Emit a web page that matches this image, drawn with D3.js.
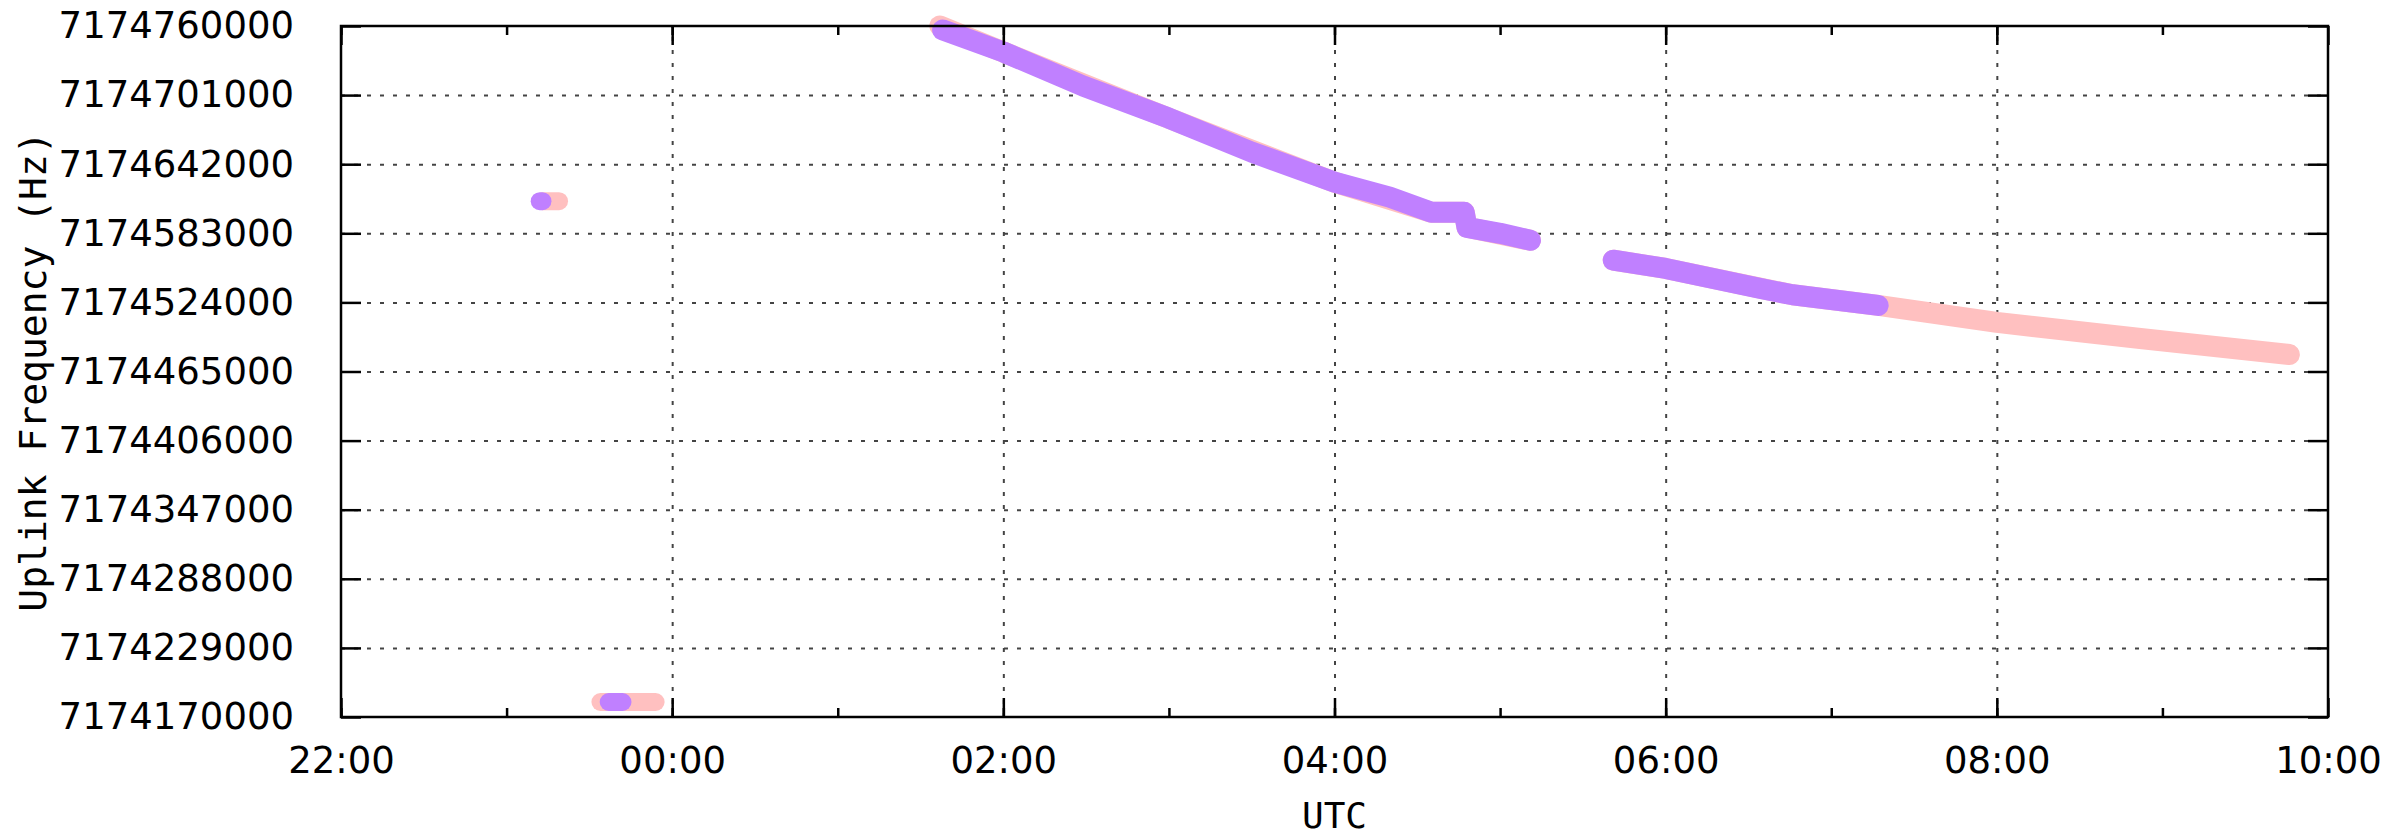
<!DOCTYPE html>
<html>
<head>
<meta charset="utf-8">
<script src="https://cdn.jsdelivr.net/npm/d3@7"></script>
<style>
  body { margin: 0; background: #fff; }
  .tick text { font-family: "DejaVu Sans", sans-serif; }
</style>
</head>
<body>
<div class="canvas"></div>
<script>
// tick labels
const xTickLabels = ['22:00', '00:00', '02:00', '04:00', '06:00', '08:00', '10:00'];
const yTicks = [7174170000, 7174229000, 7174288000, 7174347000, 7174406000,
  7174465000, 7174524000, 7174583000, 7174642000, 7174701000, 7174760000];

// purple series, [time UTC, uplink Hz]
const purpleA = [['23:12', 7174610400], ['23:13', 7174610400]];
const purpleB = [['23:37', 7174182800], ['23:42', 7174182800]];
const purpleTrack1 = [
  ['01:38', 7174756600], ['02:00', 7174737800], ['02:29', 7174708700],
  ['03:00', 7174681300], ['03:30', 7174652300], ['04:00', 7174626600],
  ['04:20', 7174613800], ['04:35', 7174601000], ['04:47', 7174601000],
  ['04:48', 7174588100], ['05:00', 7174583000], ['05:11', 7174577000]
];
const purpleTrack2 = [
  ['05:41', 7174560000], ['06:00', 7174553000], ['06:34', 7174536000],
  ['06:46', 7174530500], ['07:17', 7174521400]
];

// pink series
const pinkA = [['23:13', 7174610400], ['23:19', 7174610400]];
const pinkB = [['23:34', 7174182800], ['23:54', 7174182800]];
const pinkTrack1 = [
  ['01:37', 7174760000], ['02:00', 7174737800], ['03:00', 7174681300],
  ['04:00', 7174626600], ['04:35', 7174601000], ['04:47', 7174601000],
  ['04:48', 7174588100], ['05:11', 7174577000]
];
const pinkTrack2 = [
  ['05:41', 7174560000], ['06:00', 7174553000], ['06:46', 7174530500],
  ['07:17', 7174521400], ['08:00', 7174506900], ['08:52', 7174493200],
  ['09:46', 7174479500]
];

// "HH:MM" -> date, evening hours belong to the first day
const parseTime = s => {
  const [h, m] = s.split(':').map(Number);
  return new Date(Date.UTC(2000, 0, h >= 12 ? 1 : 2, h, m));
};

const svg = d3.select('.canvas')
  .append('svg')
    .attr('width', 2390)
    .attr('height', 836);

const margin = {top: 26, right: 62, bottom: 119, left: 341};
const graphWidth = 2390 - margin.left - margin.right;
const graphHeight = 836 - margin.top - margin.bottom;

const graph = svg.append('g')
  .attr('transform', `translate(${margin.left}, ${margin.top})`);

const x = d3.scaleUtc()
  .domain([parseTime(xTickLabels[0]), parseTime(xTickLabels[xTickLabels.length - 1])])
  .range([0, graphWidth]);

const y = d3.scaleLinear()
  .domain([yTicks[0], yTicks[yTicks.length - 1]])
  .range([graphHeight, 0]);

const majorTimes = xTickLabels.map(parseTime);
const minorTimes = d3.utcHour.every(1).range(majorTimes[0], majorTimes[majorTimes.length - 1]);

// grid
const gridStyle = g => g.call(s => s.select('.domain').remove())
  .selectAll('line')
    .attr('stroke', '#444')
    .attr('stroke-width', 2)
    .attr('stroke-dasharray', '4,9');

graph.append('g')
  .call(d3.axisLeft(y).tickValues(yTicks.slice(1, -1)).tickSize(-graphWidth).tickFormat(''))
  .call(gridStyle);

graph.append('g')
  .attr('transform', `translate(0, ${graphHeight})`)
  .call(d3.axisBottom(x).tickValues(majorTimes.slice(1, -1)).tickSize(-graphHeight).tickFormat(''))
  .call(gridStyle);

// data tracks
const line = d3.line()
  .x(d => x(parseTime(d[0])))
  .y(d => y(d[1]));

const drawTrack = (data, colour, w) => {
  graph.append('path')
    .datum(data)
    .attr('d', line)
    .attr('fill', 'none')
    .attr('stroke', colour)
    .attr('stroke-width', w)
    .attr('stroke-linecap', 'round')
    .attr('stroke-linejoin', 'round');
};

[pinkA, pinkB].forEach(d => drawTrack(d, '#ffc0c0', 18));
[pinkTrack1, pinkTrack2].forEach(d => drawTrack(d, '#ffc0c0', 21));
[purpleA, purpleB].forEach(d => drawTrack(d, '#c080ff', 18));
[purpleTrack1, purpleTrack2].forEach(d => drawTrack(d, '#c080ff', 21));

// axes, ticks pointing inward
const axisStyle = g => {
  g.selectAll('.domain').remove();
  g.selectAll('line').attr('stroke', '#000').attr('stroke-width', 2.5);
  g.selectAll('text').attr('fill', '#000').attr('font-size', 37);
};

graph.append('g')
  .call(d3.axisLeft(y).tickValues(yTicks).tickSize(-20).tickPadding(47).tickFormat(d3.format('d')))
  .call(axisStyle);

graph.append('g')
  .attr('transform', `translate(${graphWidth}, 0)`)
  .call(d3.axisRight(y).tickValues(yTicks).tickSize(-20).tickFormat(''))
  .call(axisStyle);

const xAxisGroup = graph.append('g')
  .attr('transform', `translate(0, ${graphHeight})`);
xAxisGroup.append('g')
  .call(d3.axisBottom(x).tickValues(minorTimes).tickSize(-9).tickFormat(''))
  .call(axisStyle);
xAxisGroup.append('g')
  .call(d3.axisBottom(x).tickValues(majorTimes).tickSize(-19).tickPadding(30)
    .tickFormat((d, i) => xTickLabels[i]))
  .call(axisStyle);

const topAxisGroup = graph.append('g');
topAxisGroup.append('g')
  .call(d3.axisTop(x).tickValues(minorTimes).tickSize(-9).tickFormat(''))
  .call(axisStyle);
topAxisGroup.append('g')
  .call(d3.axisTop(x).tickValues(majorTimes).tickSize(-19).tickFormat(''))
  .call(axisStyle);

// frame
graph.append('rect')
  .attr('width', graphWidth)
  .attr('height', graphHeight)
  .attr('fill', 'none')
  .attr('stroke', '#000')
  .attr('stroke-width', 2.5);

// axis titles
svg.append('text')
  .attr('transform', `translate(46, ${margin.top + graphHeight / 2}) rotate(-90)`)
  .attr('text-anchor', 'middle')
  .attr('font-family', '"DejaVu Sans Mono", monospace')
  .attr('font-size', 38)
  .text('Uplink Frequency (Hz)');

svg.append('text')
  .attr('x', margin.left + graphWidth / 2)
  .attr('y', 828)
  .attr('text-anchor', 'middle')
  .attr('font-family', '"DejaVu Sans Mono", monospace')
  .attr('font-size', 36)
  .text('UTC');
</script>
</body>
</html>
